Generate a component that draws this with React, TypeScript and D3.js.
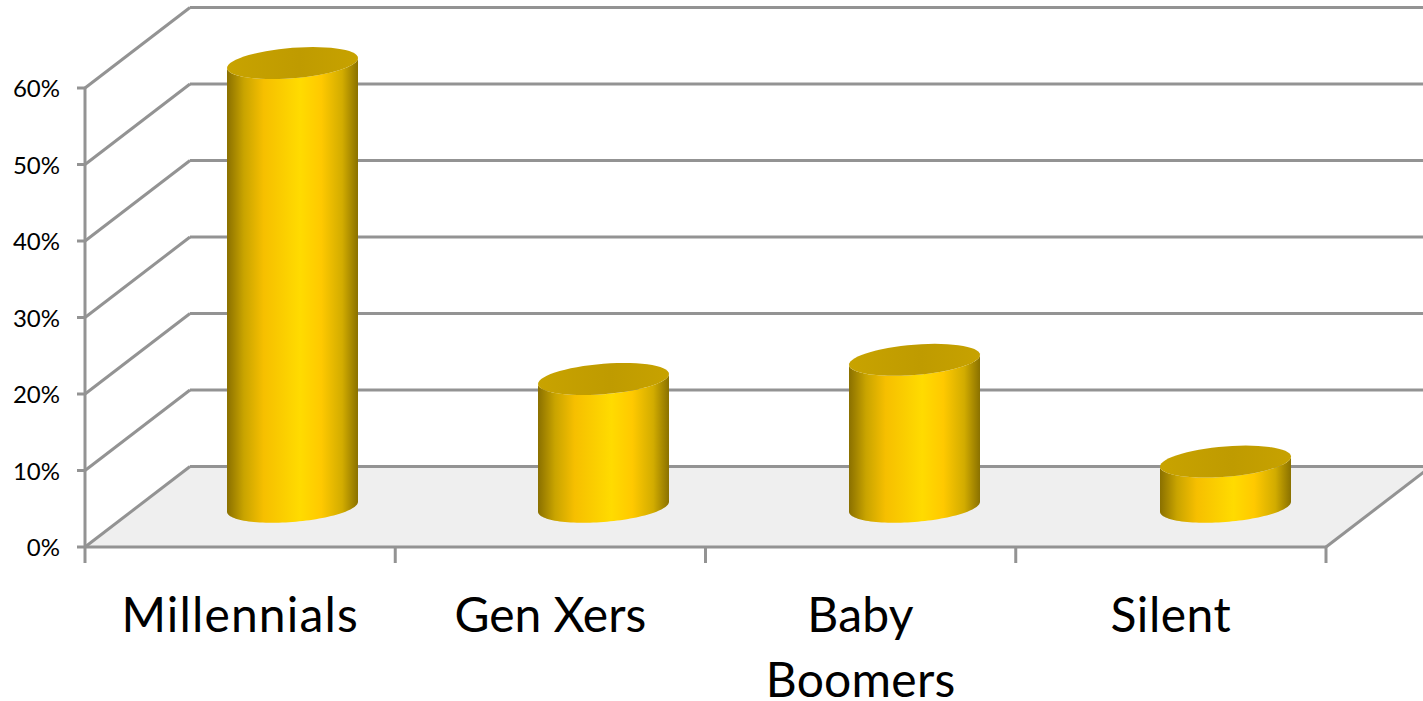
import React from "react";
import * as d3 from "d3";

const categoryLines = [["Millennials"], ["Gen Xers"], ["Baby", "Boomers"], ["Silent"]];
const labelTracking = [1.15, 0, 0.25, 0.5];
const shares = [58, 16.7, 19.2, 5.9];
const axisTicks = [0, 10, 20, 30, 40, 50, 60];

const WIDTH = 1423;
const HEIGHT = 701;
const GRID = "#939393";
const FONT = "Lato, Carlito, Calibri, sans-serif";

// Oblique projection of the box: depth runs up and to the right.
const depthX = 105;
const depthY = -80.5;

const y = d3.scaleLinear().domain([0, 60]).range([547, 88]);
const x = d3.scaleBand<number>().domain(d3.range(categoryLines.length)).range([85, 1326]);
// Columns sit on a plane halfway back, which is slightly wider than the front edge.
const columnX = d3.scaleBand<number>().domain(d3.range(categoryLines.length)).range([137, 1381]);

// Cylinder cross-section: half width and the two vertical components of the ellipse.
const radiusX = 65.5;
const tiltY = -5;
const openY = 15.2;

const ringPoint = (cx: number, cy: number, t: number): [number, number] => [
  cx + radiusX * Math.cos(t),
  cy + tiltY * Math.cos(t) + openY * Math.sin(t),
];

const sweep = (from: number, to: number) => d3.range(61).map((i) => from + ((to - from) * i) / 60);
const path = d3.line();

export default function App() {
  const floor = path([
    [x.range()[0], y(0)],
    [x.range()[0] + depthX, y(0) + depthY],
    [x.range()[1] + depthX, y(0) + depthY],
    [x.range()[1], y(0)],
  ]) + "Z";

  return (
    <svg
      width={WIDTH}
      height={HEIGHT}
      viewBox={`0 0 ${WIDTH} ${HEIGHT}`}
      style={{ position: "absolute", left: 0, top: 0, display: "block", background: "#fff" }}
    >
      <defs>
        <linearGradient id="barSide" x1="0" x2="1" y1="0" y2="0">
          <stop offset="0" stopColor="#8a7000" />
          <stop offset="0.13" stopColor="#c9a400" />
          <stop offset="0.28" stopColor="#f6bf00" />
          <stop offset="0.56" stopColor="#ffdb00" />
          <stop offset="0.72" stopColor="#ffc900" />
          <stop offset="0.88" stopColor="#d2ac00" />
          <stop offset="1" stopColor="#8a7100" />
        </linearGradient>
        <linearGradient id="barTop" x1="0" x2="1" y1="0" y2="0">
          <stop offset="0" stopColor="#c8a300" />
          <stop offset="0.55" stopColor="#bf9b00" />
          <stop offset="1" stopColor="#c7a200" />
        </linearGradient>
      </defs>

      <path d={floor} fill="#efefef" />

      {/* Wall gridlines and their diagonals along the side wall */}
      <g stroke={GRID} strokeWidth={3} fill="none">
        {axisTicks.map((t) => (
          <g key={t}>
            <line x1={x.range()[0] + depthX} x2={x.range()[1] + depthX} y1={y(t) + depthY} y2={y(t) + depthY} />
            <line x1={x.range()[0]} x2={x.range()[0] + depthX} y1={y(t)} y2={y(t) + depthY} />
            <line x1={x.range()[0] - 8} x2={x.range()[0]} y1={y(t)} y2={y(t)} />
          </g>
        ))}
        <line x1={x.range()[0]} x2={x.range()[0]} y1={y(60)} y2={y(0) + 16} />
        <line x1={x.range()[0]} x2={x.range()[1]} y1={y(0)} y2={y(0)} />
        <line x1={x.range()[1]} x2={x.range()[1] + depthX} y1={y(0)} y2={y(0) + depthY} />
        {d3.range(1, categoryLines.length + 1).map((i) => {
          const px = x.range()[0] + x.step() * i;
          return <line key={i} x1={px} x2={px} y1={y(0)} y2={y(0) + 16} />;
        })}
      </g>

      {/* Cylinders stand on the middle of the floor depth */}
      {shares.map((value, i) => {
        const cx = (columnX(i) as number) + columnX.bandwidth() / 2;
        const base = y(0) + depthY / 2;
        const top = y(value) + depthY / 2;
        const body =
          path([
            ...sweep(Math.PI, 0).map((t) => ringPoint(cx, base, t)),
            ...sweep(0, Math.PI).map((t) => ringPoint(cx, top, t)),
          ]) + "Z";
        const cap = path(sweep(0, Math.PI * 2).map((t) => ringPoint(cx, top, t))) + "Z";
        return (
          <g key={i}>
            <path d={body} fill="url(#barSide)" />
            <path d={cap} fill="url(#barTop)" />
          </g>
        );
      })}

      <g fontFamily={FONT} fontSize={24} fill="#000" textAnchor="end">
        {axisTicks.map((t) => (
          <text key={t} x={60} y={y(t) + 9}>
            {t}%
          </text>
        ))}
      </g>

      <g fontFamily={FONT} fontSize={48} fill="#000" textAnchor="middle">
        {categoryLines.map((lines, i) => (
          <text key={i} x={(x(i) as number) + x.bandwidth() / 2} letterSpacing={labelTracking[i]}>
            {lines.map((line, j) => (
              <tspan key={line} x={(x(i) as number) + x.bandwidth() / 2} y={632 + j * 65}>
                {line}
              </tspan>
            ))}
          </text>
        ))}
      </g>
    </svg>
  );
}
